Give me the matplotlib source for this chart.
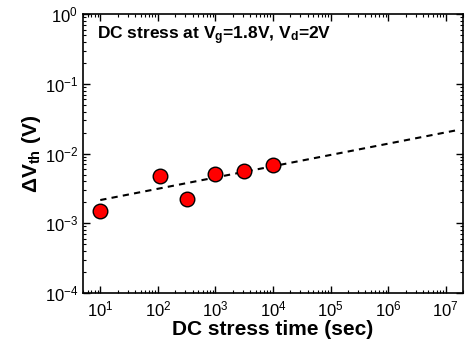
import matplotlib
matplotlib.use('Agg')
import matplotlib.pyplot as plt
from matplotlib.ticker import LogLocator, NullFormatter

# Measured threshold voltage shift
stress_time = [10, 111, 326, 1000, 3162, 10000]
delta_vth = [1.5e-3, 4.8e-3, 2.2e-3, 5.1e-3, 5.7e-3, 6.8e-3]

# Power-law extrapolation
fit_time = [10, 1.6e7]
fit_vth = [2.15e-3, 2.17e-2]

x_major = [1e1, 1e2, 1e3, 1e4, 1e5, 1e6, 1e7]
y_major = [1e-4, 1e-3, 1e-2, 1e-1, 1e0]

plt.rcParams['font.family'] = ['Liberation Sans', 'DejaVu Sans']
plt.rcParams['mathtext.fontset'] = 'custom'
plt.rcParams['mathtext.rm'] = 'Liberation Sans'
plt.rcParams['mathtext.bf'] = 'Liberation Sans:bold'
plt.rcParams['mathtext.it'] = 'Liberation Sans:italic'

fig = plt.figure(figsize=(4.74, 3.45), dpi=100)
ax = fig.add_axes([0.175, 0.151, 0.802, 0.808])

ax.plot(fit_time, fit_vth, linestyle='--', color='black', linewidth=1.5, dashes=(3, 2.5))
ax.plot(stress_time, delta_vth, 'o', markersize=10.5, markerfacecolor='red',
        markeredgecolor='black', markeredgewidth=1.0)

ax.set_xscale('log')
ax.set_yscale('log')
ax.set_xticks(x_major)
ax.set_yticks(y_major)
ax.xaxis.set_minor_locator(LogLocator(base=10, subs=range(2, 10), numticks=20))
ax.xaxis.set_minor_formatter(NullFormatter())
ax.yaxis.set_minor_locator(LogLocator(base=10, subs=range(2, 10), numticks=20))
ax.yaxis.set_minor_formatter(NullFormatter())
ax.set_xlim(5, 2e7)
ax.set_ylim(1e-4, 1)

ax.tick_params(which='both', direction='in', top=True, right=True, labelsize=12)
ax.tick_params(which='major', length=5, width=1)
ax.tick_params(which='minor', length=2.5, width=0.8)
ax.tick_params(axis='x', pad=5)
for s in ax.spines.values():
    s.set_linewidth(1.2)

ax.set_xlabel('DC stress time (sec)', fontsize=15, fontweight='bold', labelpad=0)
ax.set_ylabel(r'$\mathbf{\Delta V_{th}}$ (V)', fontsize=15, fontweight='bold', labelpad=1)

ax.text(0.037, 0.965, r'DC stress at $\mathbf{V_g}$=1.8V, $\mathbf{V_d}$=2V',
        transform=ax.transAxes, fontsize=12.5, fontweight='bold', va='top', ha='left')

fig.savefig('out.png', dpi=100)
